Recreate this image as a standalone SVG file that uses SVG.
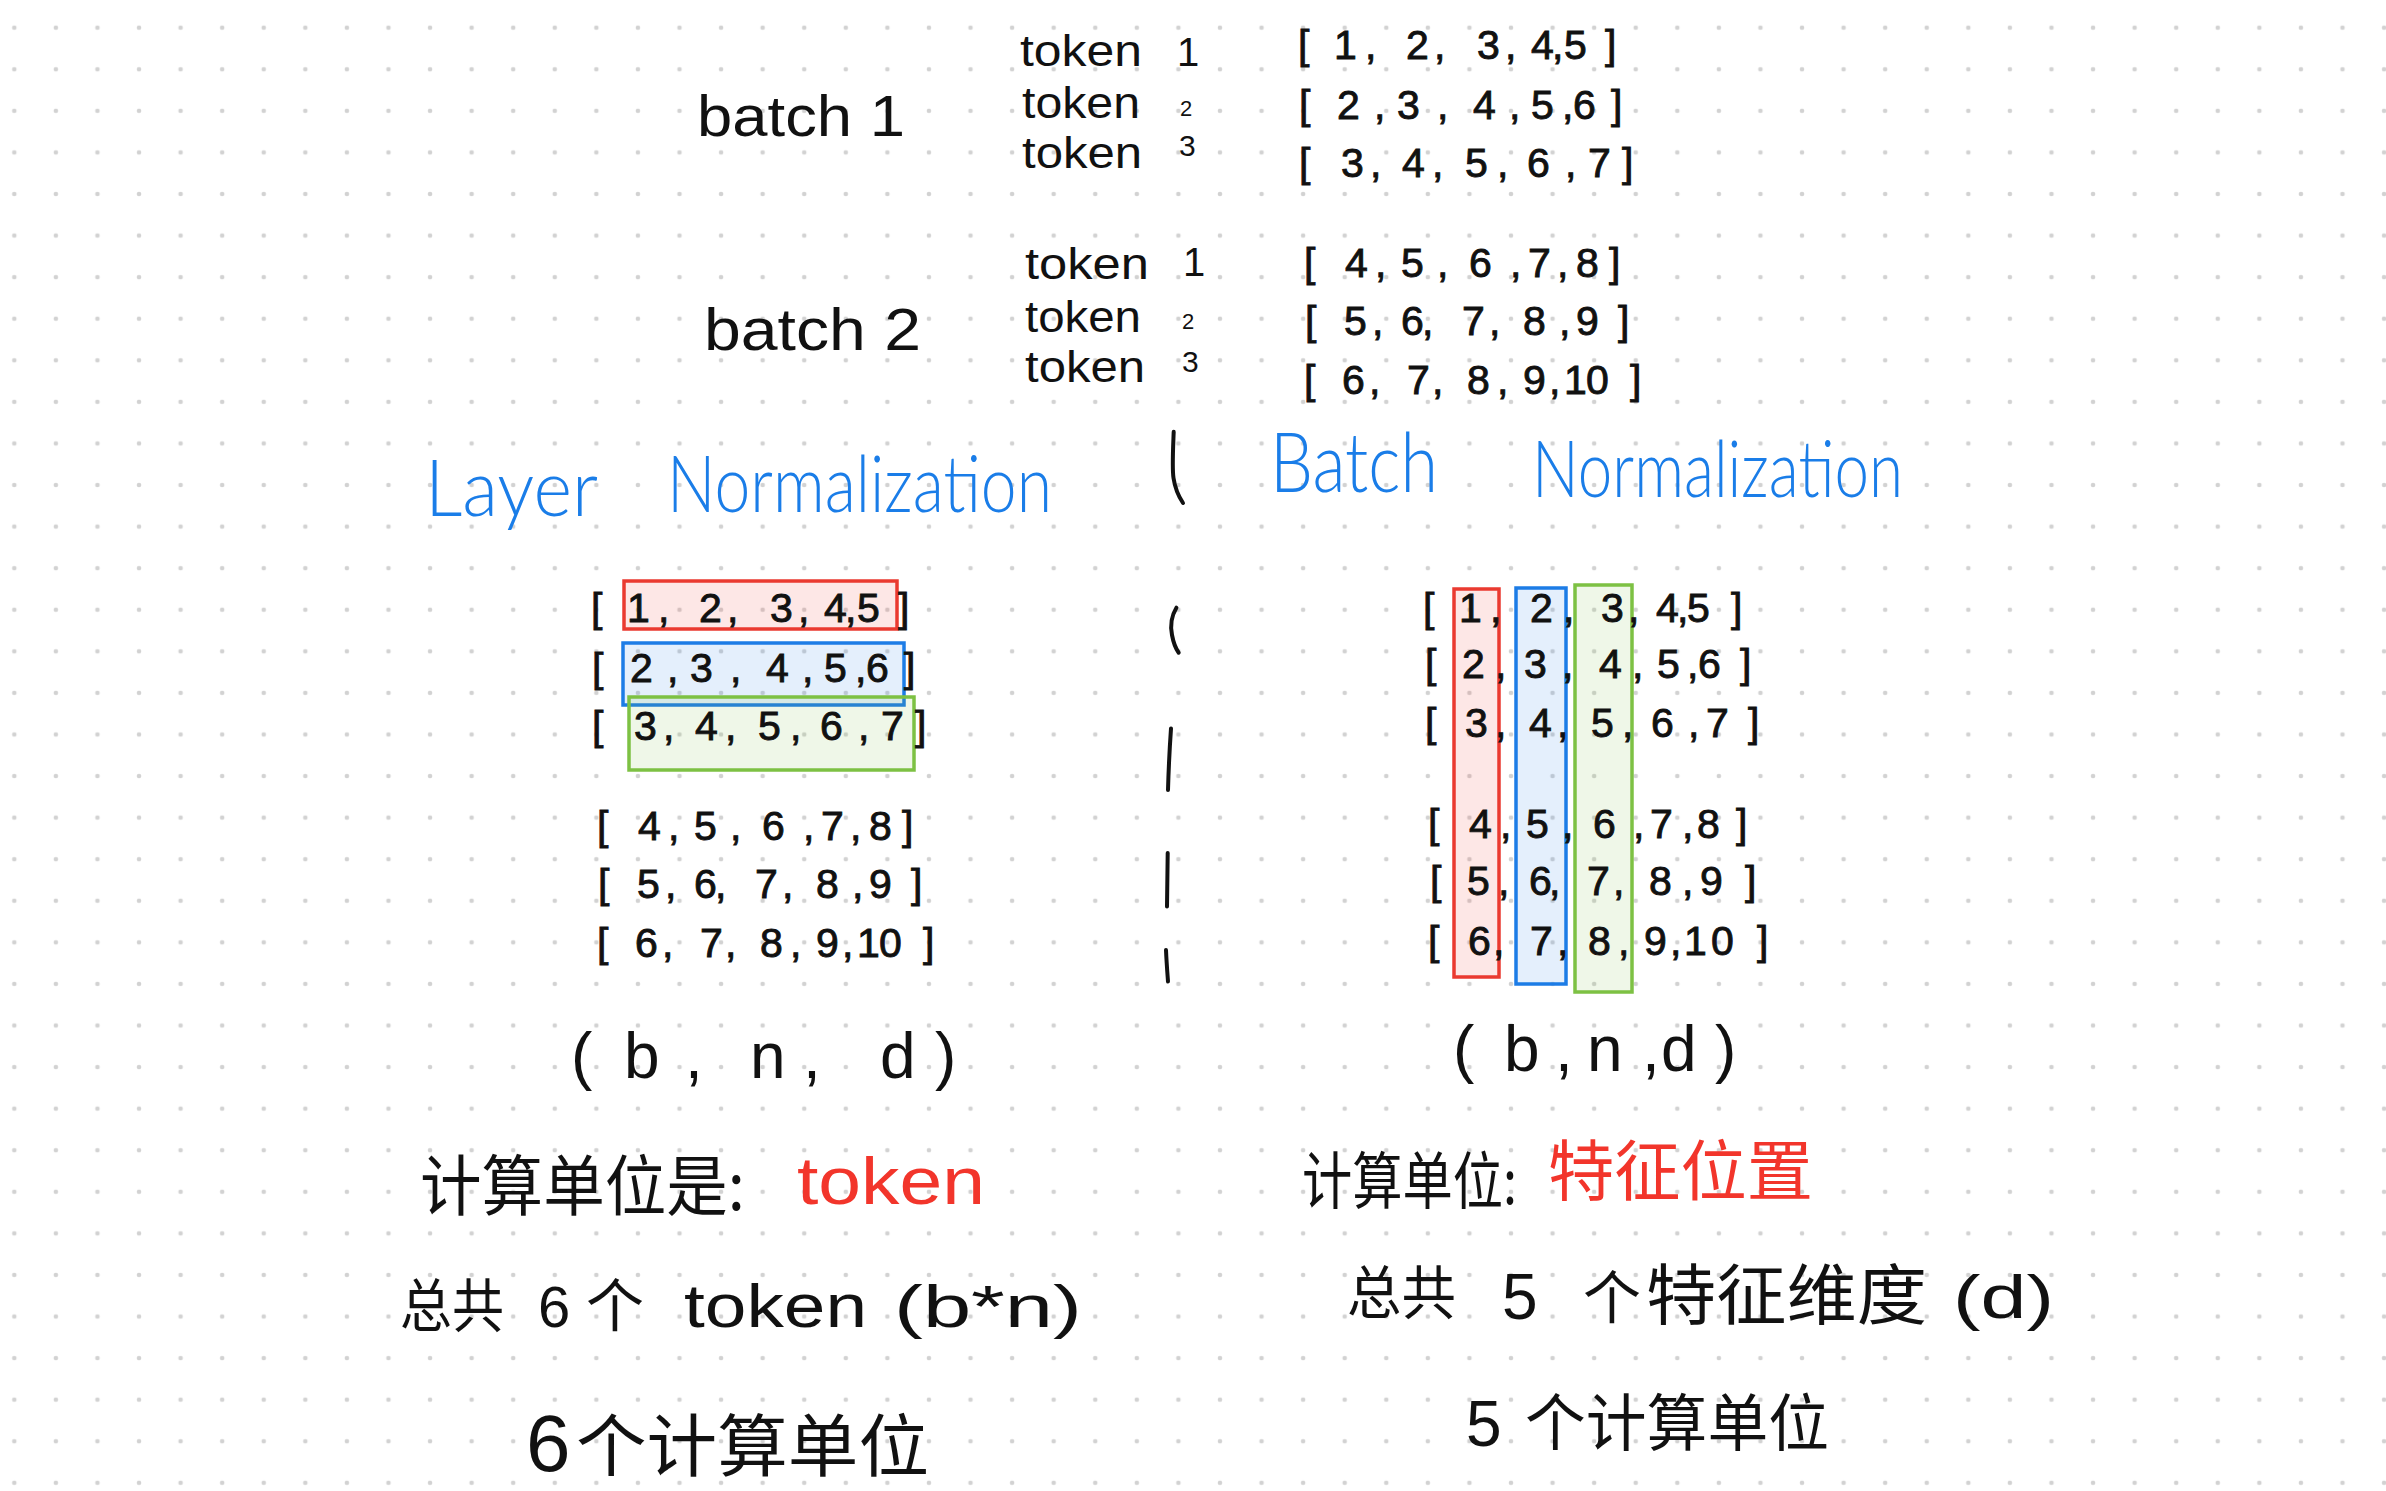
<svg xmlns="http://www.w3.org/2000/svg" width="2386" height="1491" viewBox="0 0 2386 1491">
<style>
  .hw { font-family: "Liberation Sans", "Noto Sans CJK SC", sans-serif; fill: #111; }
  .cjk { font-family: "Noto Sans CJK SC", "Liberation Sans", sans-serif; fill: #111; }
  .blue { font-family: Lato, "Liberation Sans", sans-serif; font-weight: 300; fill: #1a7de8; }
  .red { fill: #f2352b; }
  .arr { font-size: 41px; stroke: #111; stroke-width: 0.9; }
  .sep { fill: none; stroke: #111; stroke-width: 4; stroke-linecap: round; stroke-linejoin: round; }
  .boxR { fill: rgba(240,60,50,0.12); stroke: #ea3a30; stroke-width: 3.5; }
  .boxB { fill: rgba(30,125,232,0.12); stroke: #1c7ce6; stroke-width: 3.5; }
  .boxG { fill: rgba(125,193,67,0.12); stroke: #7dc143; stroke-width: 3.5; }
</style>
<defs>
  <pattern id="dots" patternUnits="userSpaceOnUse" x="-6.49" y="6.91" width="41.575" height="41.575">
    <circle cx="20.79" cy="20.79" r="2.3" fill="#d2d2d2"/>
  </pattern>
</defs>
<rect width="2386" height="1491" fill="#ffffff"/>
<rect width="2386" height="1491" fill="url(#dots)"/>

<!-- top: batches -->
<g id="batch1">
  <text class="hw" x="697" y="136" font-size="58" textLength="208" lengthAdjust="spacingAndGlyphs">batch 1</text>
  <text class="hw" y="66"><tspan x="1020" font-size="44" textLength="122" lengthAdjust="spacingAndGlyphs">token</tspan> <tspan x="1177" font-size="40">1</tspan></text>
  <text class="hw" y="118"><tspan x="1022" font-size="44" textLength="118" lengthAdjust="spacingAndGlyphs">token</tspan> <tspan x="1180" y="116" font-size="22">2</tspan></text>
  <text class="hw" y="168"><tspan x="1022" font-size="44" textLength="120" lengthAdjust="spacingAndGlyphs">token</tspan> <tspan x="1179" y="156" font-size="30">3</tspan></text>
</g>
<g id="batch2">
  <text class="hw" x="704" y="350" font-size="60" textLength="217" lengthAdjust="spacingAndGlyphs">batch 2</text>
  <text class="hw" y="279"><tspan x="1025" font-size="44" textLength="124" lengthAdjust="spacingAndGlyphs">token</tspan> <tspan x="1183" y="276" font-size="40">1</tspan></text>
  <text class="hw" y="332"><tspan x="1025" font-size="44" textLength="116" lengthAdjust="spacingAndGlyphs">token</tspan> <tspan x="1182" y="329" font-size="22">2</tspan></text>
  <text class="hw" y="382"><tspan x="1025" font-size="44" textLength="120" lengthAdjust="spacingAndGlyphs">token</tspan> <tspan x="1182" y="372" font-size="30">3</tspan></text>
</g>
<g id="top-arrays" transform="translate(707,-563)">
  <text class="hw arr" x="591 627 658 699 727 770 798 824 845 857 898" y="622">[1,2,3,4,5]</text>
  <text class="hw arr" x="592 630 667 690 730 766 802 824 855 866 904" y="682">[2,3,4,5,6]</text>
  <text class="hw arr" x="592 634 663 695 725 758 790 820 858 881 915" y="740">[3,4,5,6,7]</text>
  <text class="hw arr" x="597 638 668 694 730 762 803 821 850 869 902" y="840">[4,5,6,7,8]</text>
  <text class="hw arr" x="598 637 665 694 715 755 782 816 852 869 911" y="898">[5,6,7,8,9]</text>
  <text class="hw arr" x="597 635 662 700 725 760 790 816 842 857 879 923" y="957">[6,7,8,9,10]</text>
</g>

<!-- headings -->
<g id="title-layer-norm">
  <text class="blue" x="425" y="516" font-size="78" textLength="173" lengthAdjust="spacingAndGlyphs">Layer</text>
  <text class="blue" x="667" y="512" font-size="78" textLength="385" lengthAdjust="spacingAndGlyphs">Normalization</text>
</g>
<g id="title-batch-norm">
  <text class="blue" x="1270" y="492" font-size="82" textLength="168" lengthAdjust="spacingAndGlyphs">Batch</text>
  <text class="blue" x="1532" y="497" font-size="78" textLength="371" lengthAdjust="spacingAndGlyphs">Normalization</text>
</g>

<!-- separator strokes -->
<g id="connectors">
  <path class="sep" d="M1173.7,431.8 C1173,450 1172,468 1173.5,478 C1175,488 1179,497 1183,503"/>
  <path class="sep" d="M1176.4,607.7 C1172,615 1170,625 1172,635 C1173.5,643 1176,649 1178.7,652.7"/>
  <path class="sep" d="M1171,728.5 C1169.5,750 1168.5,772 1168,790"/>
  <path class="sep" d="M1167.7,853 C1167.5,872 1167.3,890 1167,906.5"/>
  <path class="sep" d="M1166,950 C1166.5,962 1167.3,972 1168,981.5"/>
</g>

<!-- layer norm block -->
<g id="layer-norm-data">
  <rect class="boxR" x="624" y="581" width="273" height="48"/>
  <rect class="boxB" x="623" y="643" width="281" height="62"/>
  <rect class="boxG" x="629" y="697" width="285" height="73"/>
  <text class="hw arr" x="591 627 658 699 727 770 798 824 845 857 898" y="622">[1,2,3,4,5]</text>
  <text class="hw arr" x="592 630 667 690 730 766 802 824 855 866 904" y="682">[2,3,4,5,6]</text>
  <text class="hw arr" x="592 634 663 695 725 758 790 820 858 881 915" y="740">[3,4,5,6,7]</text>
  <text class="hw arr" x="597 638 668 694 730 762 803 821 850 869 902" y="840">[4,5,6,7,8]</text>
  <text class="hw arr" x="598 637 665 694 715 755 782 816 852 869 911" y="898">[5,6,7,8,9]</text>
  <text class="hw arr" x="597 635 662 700 725 760 790 816 842 857 879 923" y="957">[6,7,8,9,10]</text>
  <text class="hw" font-size="64" x="571 624 685 700 750 803 830 880 935" y="1078">(b, n, d)</text>
</g>

<!-- batch norm block -->
<g id="batch-norm-data">
  <rect class="boxR" x="1454" y="589" width="45" height="388"/>
  <rect class="boxB" x="1516" y="588" width="50" height="396"/>
  <rect class="boxG" x="1575" y="585" width="57" height="407"/>
  <text class="hw arr" x="1423 1459 1490 1530 1563 1601 1628 1656 1677 1687 1731" y="622">[1,2,3,4,5]</text>
  <text class="hw arr" x="1425 1462 1495 1524 1562 1599 1632 1657 1687 1698 1740" y="678">[2,3,4,5,6]</text>
  <text class="hw arr" x="1425 1465 1495 1529 1557 1591 1622 1651 1688 1706 1748" y="737">[3,4,5,6,7]</text>
  <text class="hw arr" x="1428 1469 1500 1526 1562 1593 1633 1650 1682 1697 1736" y="838">[4,5,6,7,8]</text>
  <text class="hw arr" x="1430 1467 1498 1529 1549 1587 1613 1649 1682 1700 1745" y="895">[5,6,7,8,9]</text>
  <text class="hw arr" x="1428 1468 1493 1530 1557 1588 1618 1644 1670 1684 1711 1757" y="955">[6,7,8,9,10]</text>
  <text class="hw" font-size="64" x="1453 1504 1555 1570 1587 1642 1650 1661 1715" y="1071">(b, n, d)</text>
</g>

<!-- left notes -->
<g id="layer-norm-notes">
  <text class="cjk" y="1210"><tspan x="420" font-size="66" textLength="325" lengthAdjust="spacingAndGlyphs">计算单位是:</tspan> <tspan class="red" x="797" y="1204" font-family="Liberation Sans" font-size="66" textLength="188" lengthAdjust="spacingAndGlyphs">token</tspan></text>
  <text class="cjk" y="1327"><tspan x="400" font-size="58" textLength="104" lengthAdjust="spacingAndGlyphs">总共</tspan> <tspan x="538" font-family="Liberation Sans" font-size="58">6</tspan> <tspan x="586" font-size="58">个</tspan> <tspan x="684" font-family="Liberation Sans" font-size="62" textLength="183" lengthAdjust="spacingAndGlyphs">token</tspan> <tspan x="894" font-family="Liberation Sans" font-size="60" textLength="188" lengthAdjust="spacingAndGlyphs">(b*n)</tspan></text>
  <text class="cjk" y="1456"><tspan x="526" y="1471" font-family="Liberation Sans" font-size="80">6</tspan> <tspan x="576" font-size="68" textLength="353" lengthAdjust="spacingAndGlyphs">个计算单位</tspan></text>
</g>

<!-- right notes -->
<g id="batch-norm-notes">
  <text class="cjk" y="1204"><tspan x="1302" font-size="62" textLength="215" lengthAdjust="spacingAndGlyphs">计算单位:</tspan> <tspan class="red" x="1548" y="1195" font-size="66" textLength="265" lengthAdjust="spacingAndGlyphs">特征位置</tspan></text>
  <text class="cjk" y="1314"><tspan x="1347" font-size="58" textLength="109" lengthAdjust="spacingAndGlyphs">总共</tspan> <tspan x="1502" y="1319" font-family="Liberation Sans" font-size="64">5</tspan> <tspan x="1583" font-size="58">个</tspan> <tspan x="1646" font-size="66" textLength="281" lengthAdjust="spacingAndGlyphs">特征维度</tspan> <tspan x="1953" y="1318" font-family="Liberation Sans" font-size="62" textLength="101" lengthAdjust="spacingAndGlyphs">(d)</tspan></text>
  <text class="cjk" y="1432"><tspan x="1466" y="1446" font-family="Liberation Sans" font-size="64">5</tspan><tspan x="1525" font-size="62" textLength="304" lengthAdjust="spacingAndGlyphs">个计算单位</tspan></text>
</g>
</svg>
